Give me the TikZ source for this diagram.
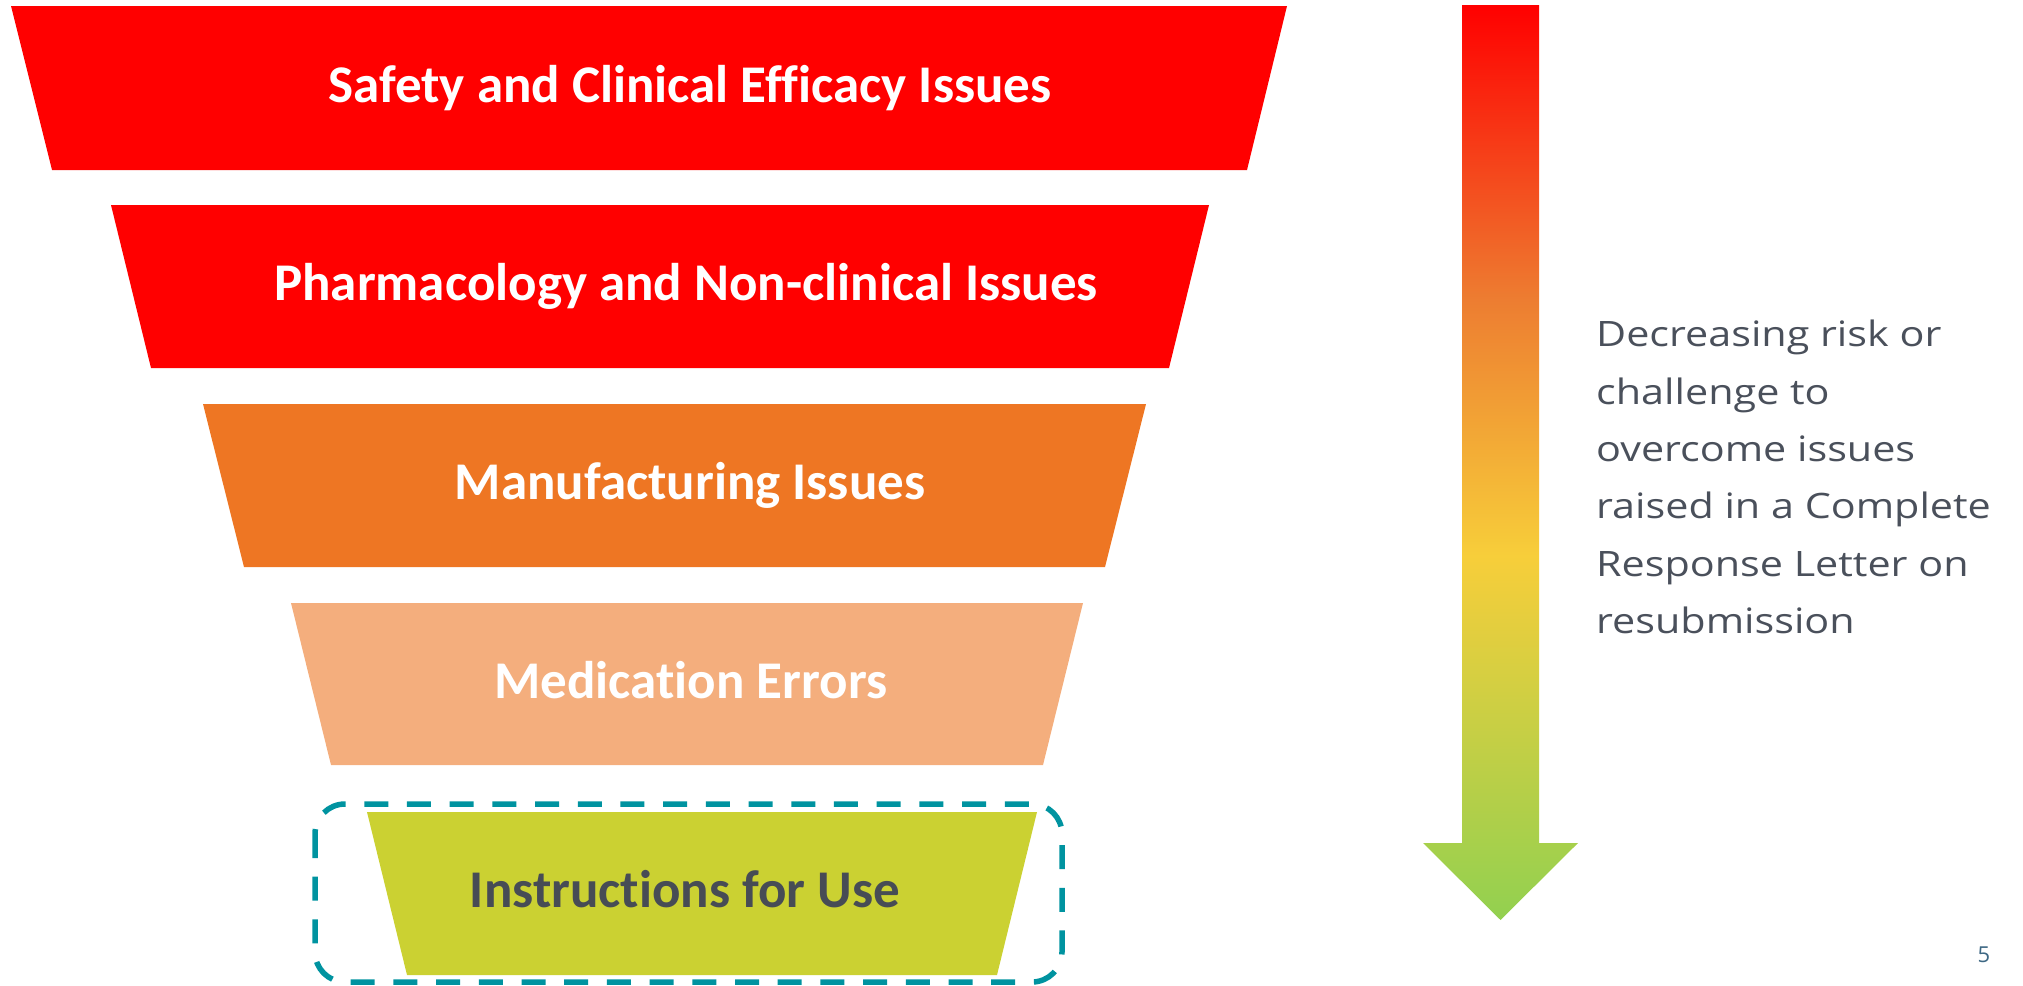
\documentclass[tikz,border=0pt]{standalone}
\usepackage{fontspec}
\setmainfont{Carlito}[Ligatures={NoCommon,NoContextual}]
\newfontfamily\sidefont{Open Sans}[FakeStretch=1.18]
\newfontfamily\pagefont{Open Sans}
\definecolor{rred}{RGB}{255,0,0}
\definecolor{rorange}{RGB}{238,118,35}
\definecolor{rpeach}{RGB}{244,174,125}
\definecolor{rlime}{RGB}{203,209,50}
\definecolor{iftext}{RGB}{71,76,85}
\definecolor{teal}{RGB}{0,147,160}
\definecolor{sidegray}{RGB}{74,80,91}
\definecolor{pagenum}{RGB}{62,104,132}
\definecolor{gorange}{RGB}{237,125,49}
\definecolor{gyellow}{RGB}{247,206,58}
\definecolor{ggreen}{RGB}{146,208,80}
\pgfdeclareverticalshading{riskshade}{100bp}{color(0bp)=(ggreen); color(25bp)=(ggreen); color(44.9bp)=(gyellow); color(58.9bp)=(gorange); color(75bp)=(rred); color(100bp)=(rred)}
\tikzset{
  lbl/.style={font=\bfseries\fontsize{53}{60}\selectfont, text=white, inner sep=0pt, anchor=base},
  dashbox/.style={draw=teal, line width=5.5pt, rounded corners=30pt, dash pattern=on 24pt off 18.7pt},
  side/.style={font=\sidefont\fontsize{35}{57.3}\selectfont, text=sidegray, align=left, inner sep=0pt, anchor=base west},
}
\begin{document}
\begin{tikzpicture}[x=1pt,y=-1pt]
\useasboundingbox (0,0) rectangle (2023,985);
% funnel layers
\fill[rred] (11,6) -- (1287,6) -- (1247,170) -- (52,170) -- cycle;
\fill[rred] (111,205) -- (1209,205) -- (1169,368) -- (151,368) -- cycle;
\fill[rorange] (203,404) -- (1146,404) -- (1105,567) -- (244,567) -- cycle;
\fill[rpeach] (291,603) -- (1083,603) -- (1043,765) -- (331,765) -- cycle;
\fill[rlime] (367,812) -- (1037,812) -- (997,975) -- (407,975) -- cycle;
% labels (kerns only break ligatures)
\node[lbl] (t1) at (690,102) {Safety and Clinical Ef\kern0ptf\kern0pticacy Issues};
\node[lbl] (t2) at (686,300.5) {Pharmacology and Non-clinical Issues};
\node[lbl] (t3) at (690,499.5) {Manufacturing Issues};
\node[lbl] (t4) at (691,698) {Medicat\kern0ption Errors};
\node[lbl, text=iftext] (t5) at (685,907.5) {Instruct\kern0ptions for Use};
% highlight box
\draw[dashbox] (315,804) rectangle (1062,982);
% gradient arrow
\path[shading=riskshade] (1462,5) -- (1539,5) -- (1539,843) -- (1578,843) -- (1500.5,920) -- (1423,843) -- (1462,843) -- cycle;
% side text (anchor = baseline of last line)
\node[side] (desc) at (1596,633.3) {Decreasing risk or\\challenge to\\overcome issues\\raised in a Complete\\Response Letter on\\resubmission};
\node[font=\pagefont\fontsize{22}{26}\selectfont, text=pagenum, inner sep=0pt] (pg) at (1984,955) {5};
\end{tikzpicture}
\end{document}
